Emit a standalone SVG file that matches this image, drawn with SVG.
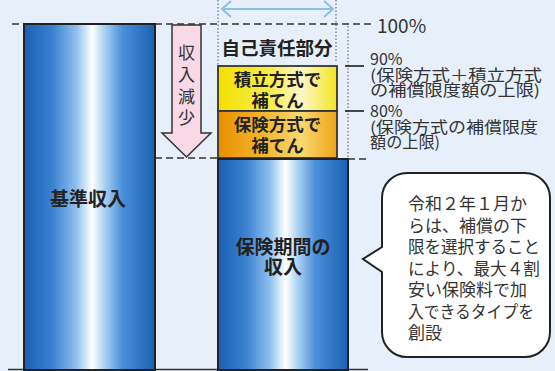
<svg xmlns="http://www.w3.org/2000/svg" width="555" height="371" viewBox="0 0 555 371">
<defs>
<style>
.t{font-family:"Noto Sans CJK JP","Noto Sans",sans-serif;fill:#333}
.b{font-weight:bold;fill:#222}
.dash{stroke:#333;stroke-width:1.5;stroke-dasharray:7 4;fill:none}
.dot{stroke:#555;stroke-width:1;stroke-dasharray:1.5 2;fill:none}
.tick{stroke:#333;stroke-width:1.8;fill:none}
</style>
<linearGradient id="blue" x1="0" y1="0" x2="1" y2="0">
<stop offset="0" stop-color="#1a5fb2"/>
<stop offset="0.22" stop-color="#3b82d0"/>
<stop offset="0.4" stop-color="#8fc0ee"/>
<stop offset="0.52" stop-color="#ffffff"/>
<stop offset="0.62" stop-color="#a6cff2"/>
<stop offset="0.75" stop-color="#4a8fd8"/>
<stop offset="1" stop-color="#1a60b4"/>
</linearGradient>
<linearGradient id="yel" x1="0" y1="0" x2="1" y2="0">
<stop offset="0" stop-color="#f3e000"/>
<stop offset="0.45" stop-color="#f7ec50"/>
<stop offset="0.7" stop-color="#fcf8c8"/>
<stop offset="1" stop-color="#f4e420"/>
</linearGradient>
<linearGradient id="org" x1="0" y1="0" x2="1" y2="0">
<stop offset="0" stop-color="#e89000"/>
<stop offset="0.4" stop-color="#f2b830"/>
<stop offset="0.7" stop-color="#f8d870"/>
<stop offset="1" stop-color="#eea418"/>
</linearGradient>
</defs>
<rect width="555" height="371" fill="#e7f0fa"/>

<g id="guides">
<line class="dash" x1="12" y1="24" x2="372" y2="24"/>
<line class="dash" x1="155" y1="158" x2="218" y2="158"/>
<line class="dash" x1="348" y1="159" x2="366" y2="159"/>
<line class="dot" x1="218" y1="0" x2="218" y2="66"/>
<line class="dot" x1="336" y1="0" x2="336" y2="62"/>
<line class="dot" x1="348" y1="26" x2="348" y2="158"/>
<line class="tick" x1="345" y1="66" x2="364" y2="66"/>
<line class="tick" x1="345" y1="111" x2="364" y2="111"/>
<line x1="8" y1="369.5" x2="368" y2="369.5" stroke="#333" stroke-width="1.5"/>
</g>

<g id="width-arrow">
<line x1="222" y1="9" x2="333" y2="9" stroke="#8cbfe8" stroke-width="2"/>
<polyline points="231,1 222,9 231,17" fill="none" stroke="#8cbfe8" stroke-width="2"/>
<polyline points="324,1 333,9 324,17" fill="none" stroke="#8cbfe8" stroke-width="2"/>
</g>

<g id="base-income">
<rect x="24" y="24" width="131" height="346" fill="url(#blue)" stroke="#222" stroke-width="2"/>
<text class="t b" x="88" y="206" font-size="19" text-anchor="middle">基準収入</text>
</g>

<g id="decrease-arrow">
<polygon points="172,25 201,25 201,133 211,133 186.5,157 162,133 172,133" fill="#f8d9e5" stroke="#333" stroke-width="1.5" stroke-linejoin="miter"/>
<text class="t" font-size="17" text-anchor="middle" fill="#555"><tspan x="186.5" y="59">収</tspan><tspan x="186.5" y="81">入</tspan><tspan x="186.5" y="103">減</tspan><tspan x="186.5" y="124">少</tspan></text>
</g>

<g id="self-responsibility">
<text class="t b" x="277" y="55" font-size="18.5" text-anchor="middle">自己責任部分</text>
</g>

<g id="reserve">
<rect x="218" y="66" width="119" height="45" fill="url(#yel)" stroke="#333" stroke-width="1.8"/>
<text class="t b" x="277.5" y="86" font-size="17.5" text-anchor="middle">積立方式で</text>
<text class="t b" x="277.5" y="107" font-size="17.5" text-anchor="middle">補てん</text>
</g>

<g id="insurance">
<rect x="218" y="111" width="119" height="47" fill="url(#org)" stroke="#333" stroke-width="1.8"/>
<text class="t b" x="277.5" y="131" font-size="17.5" text-anchor="middle">保険方式で</text>
<text class="t b" x="277.5" y="152" font-size="17.5" text-anchor="middle">補てん</text>
</g>

<g id="period-income">
<rect x="218" y="159" width="130" height="211" fill="url(#blue)" stroke="#222" stroke-width="2"/>
<text class="t b" x="283" y="254" font-size="19" text-anchor="middle">保険期間の</text>
<text class="t b" x="283" y="274" font-size="19" text-anchor="middle">収入</text>
</g>

<g id="labels">
<text class="t" x="377" y="33" font-size="19" fill="#444">100%</text>
<text class="t" x="370" y="65" font-size="16" fill="#444">90%</text>
<text class="t" x="370" y="81" font-size="15.5" fill="#444" textLength="172" lengthAdjust="spacingAndGlyphs">(保険方式＋積立方式</text>
<text class="t" x="370" y="96" font-size="15.5" fill="#444" textLength="170" lengthAdjust="spacingAndGlyphs">の補償限度額の上限)</text>
<text class="t" x="370" y="117" font-size="16" fill="#444">80%</text>
<text class="t" x="370" y="133" font-size="15.5" fill="#444" textLength="168" lengthAdjust="spacingAndGlyphs">(保険方式の補償限度</text>
<text class="t" x="370" y="148" font-size="15.5" fill="#444" textLength="70" lengthAdjust="spacingAndGlyphs">額の上限)</text>
</g>

<g id="callout">
<path d="M407,173 H525 A25,25 0 0 1 550,198 V332 A25,25 0 0 1 525,357 H407 A25,25 0 0 1 382,332 V272 L363,259 L382,247 V198 A25,25 0 0 1 407,173 Z" fill="#ffffff" stroke="#222" stroke-width="2"/>
<text class="t" font-size="17" fill="#333">
<tspan x="408" y="210">令和２年１月か</tspan>
<tspan x="408" y="231.5">らは、補償の下</tspan>
<tspan x="408" y="253" textLength="132" lengthAdjust="spacingAndGlyphs">限を選択すること</tspan>
<tspan x="408" y="274.5" textLength="132" lengthAdjust="spacingAndGlyphs">により、最大４割</tspan>
<tspan x="408" y="296">安い保険料で加</tspan>
<tspan x="408" y="317.5" textLength="126" lengthAdjust="spacingAndGlyphs">入できるタイプを</tspan>
<tspan x="408" y="339">創設</tspan>
</text>
</g>
</svg>
